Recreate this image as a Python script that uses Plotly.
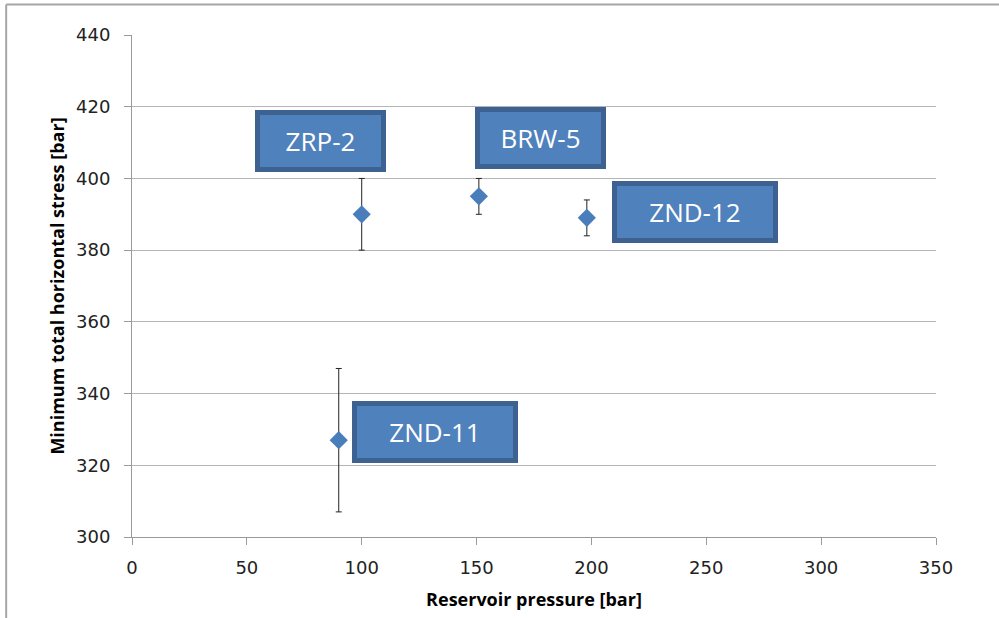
import plotly.graph_objects as go

# Data
wells = ["ZRP-2", "BRW-5", "ZND-12", "ZND-11"]
reservoir_pressure = [100, 151, 198, 90]
min_horizontal_stress = [390, 395, 389, 327]
stress_error = [10, 5, 5, 20]

x_ticks = [0, 50, 100, 150, 200, 250, 300, 350]
y_ticks = [300, 320, 340, 360, 380, 400, 420, 440]

# Label placement (pixel offsets from each point) - styling only
label_dx = [-41, 62, 108, 96]
label_dy = [73, 58, 6, 8]
label_w = [121, 121, 156, 156]

fig = go.Figure()
fig.add_trace(go.Scatter(
    x=reservoir_pressure, y=min_horizontal_stress, mode="markers",
    marker=dict(symbol="diamond", size=14, color="#4A7EBB"),
    error_y=dict(type="data", array=stress_error, visible=True,
                 color="#222222", thickness=1, width=3),
    showlegend=False, hoverinfo="x+y",
))

for i, w in enumerate(wells):
    fig.add_annotation(
        x=reservoir_pressure[i], y=min_horizontal_stress[i],
        xshift=label_dx[i], yshift=label_dy[i], showarrow=False,
        text=w, font=dict(family="Open Sans", size=26, color="white"),
        bgcolor="#4F81BD", bordercolor="#3D6291", borderwidth=5,
        borderpad=0, width=label_w[i], height=52,
    )

# outer chart frame (partially clipped, as in reference)
fig.add_shape(type="line", xref="paper", yref="paper",
              x0=-0.1565, x1=-0.1565, y0=1.061, y1=-0.3,
              line=dict(color="#A6A6A6", width=2))
fig.add_shape(type="line", xref="paper", yref="paper",
              x0=-0.1565, x1=1.2, y0=1.061, y1=1.061,
              line=dict(color="#A6A6A6", width=2))

axis_common = dict(
    showline=True, linecolor="#9A9A9A", linewidth=1,
    ticks="outside", ticklen=7, tickcolor="#9A9A9A",
    tickfont=dict(family="DejaVu Sans", size=18, color="#222222"),
    zeroline=False,
)

fig.update_xaxes(range=[0, 350], tickvals=x_ticks, showgrid=False,
                 ticklabelstandoff=7,
                 title=dict(text="<b>Reservoir pressure [bar]</b>",
                            font=dict(family="Open Sans", size=18, color="black"),
                            standoff=16),
                 **axis_common)
fig.update_yaxes(range=[300, 440], tickvals=y_ticks, showgrid=True,
                 gridcolor="#B5B5B5", gridwidth=1,
                 ticklabelstandoff=10,
                 title=dict(text="<b>Minimum total horizontal stress [bar]</b>",
                            font=dict(family="Open Sans", size=18, color="black"),
                            standoff=6),
                 **axis_common)

fig.update_layout(
    width=999, height=618,
    margin=dict(l=132, r=63, t=35, b=81),
    paper_bgcolor="white", plot_bgcolor="white",
)

fig.write_html("out.html")
